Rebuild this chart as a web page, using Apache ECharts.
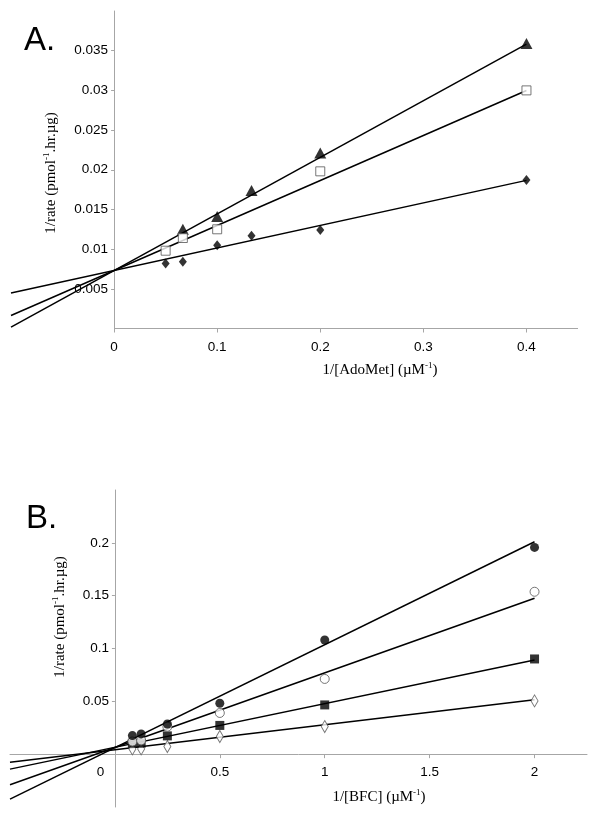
<!DOCTYPE html>
<html>
<head>
<meta charset="utf-8">
<script src="https://cdn.jsdelivr.net/npm/echarts@6/dist/echarts.min.js"></script>
<style>html,body{margin:0;padding:0;background:#fff}#c{width:600px;height:818px}</style>
</head>
<body>
<div id="c"></div>
<script>
// ---- Panel A data (1/[AdoMet]) ----
const aTriX = [0.0667, 0.1, 0.1333, 0.2, 0.4];
const aTriY = [0.0125, 0.0141, 0.0174, 0.0221, 0.0359];
const aSqX = [0.05, 0.0667, 0.1, 0.2, 0.4];
const aSqY = [0.0098, 0.0114, 0.0125, 0.0198, 0.0300];
const aDiaX = [0.05, 0.0667, 0.1, 0.1333, 0.2, 0.4];
const aDiaY = [0.0082, 0.0084, 0.0105, 0.0117, 0.0124, 0.0187];
// trendlines: [triangle, square, diamond]
const aSlope = [0.0713, 0.0567, 0.0284];
const aIntercept = [0.0073, 0.0073, 0.0073];
const aYTicks = [0.005, 0.01, 0.015, 0.02, 0.025, 0.03, 0.035];
const aXTicks = [0, 0.1, 0.2, 0.3, 0.4];

// ---- Panel B data (1/[BFC]) ----
const bX = [0.0833, 0.125, 0.25, 0.5, 1, 2];
const bFilledCircle = [0.0176, 0.0192, 0.0286, 0.0482, 0.108, 0.1957];
const bOpenCircle = [0.012, 0.013, 0.026, 0.0390, 0.0712, 0.1537];
const bSquare = [0.0104, 0.0104, 0.0173, 0.0272, 0.0466, 0.0901];
const bDiamond = [0.005, 0.005, 0.0072, 0.0167, 0.0261, 0.0504];
// trendlines: [filled circle, open circle, square, diamond]
const bSlope = [0.0974, 0.0706, 0.0413, 0.0236];
const bIntercept = [0.0062, 0.0063, 0.0065, 0.0042];
const bYTicks = [0.05, 0.1, 0.15, 0.2];
const bXTicks = [0, 0.5, 1, 1.5, 2];

const AXIS_GRAY = '#a6a6a6';
const tickFont = {fontFamily: 'Liberation Sans', fontSize: 13.5, color: '#000'};
const fmt = v => String(parseFloat(Number(v).toFixed(4)));

function zip(xs, ys) { return xs.map((x, i) => [x, ys[i]]); }
function fitLine(slope, icpt, x0, x1) { return [[x0, icpt + slope * x0], [x1, icpt + slope * x1]]; }

const aXMin = -0.1, aXMax = 0.45, aYMin = 0, aYMax = 0.04;
const bXMin = -0.5, bXMax = 2.25, bYMin = -0.05, bYMax = 0.25;

const gA = {left: 11, top: 11, width: 567, height: 317.5};
const gB = {left: 10, top: 490, width: 577, height: 317};
// shift axes so they cross at zero
const aYOffset = -gA.width * (0 - aXMin) / (aXMax - aXMin);
const bYOffset = -gB.width * (0 - bXMin) / (bXMax - bXMin);
const bXOffset = -gB.height * (0 - bYMin) / (bYMax - bYMin);

function lineSeries(xi, yi, data) {
  return {type: 'line', xAxisIndex: xi, yAxisIndex: yi, data: data, symbol: 'none',
          lineStyle: {color: '#000', width: 1.5}, silent: true, z: 2, clip: true, animation: false};
}
function scatter(xi, yi, data, symbol, size, filled) {
  return {type: 'scatter', xAxisIndex: xi, yAxisIndex: yi, data: data, symbol: symbol, symbolSize: size,
          itemStyle: filled ? {color: '#000'} : {color: '#fff', borderColor: '#555', borderWidth: 1},
          z: 3, animation: false};
}

const supRich = {
  sup: {fontFamily: 'Liberation Serif', fontSize: 9, verticalAlign: 'top', lineHeight: 18, fill: '#000'},
};

const option = {
  animation: false,
  grid: [
    Object.assign({outerBoundsMode: 'none', containLabel: false}, gA),
    Object.assign({outerBoundsMode: 'none', containLabel: false}, gB)
  ],
  xAxis: [
    {type: 'value', gridIndex: 0, min: aXMin, max: aXMax,
     axisLine: {show: false, onZero: false},
     axisTick: {show: true, length: 4, lineStyle: {color: AXIS_GRAY}, customValues: aXTicks},
     axisLabel: Object.assign({margin: 12, customValues: aXTicks, formatter: fmt}, tickFont),
     splitLine: {show: false}},
    {type: 'value', gridIndex: 1, min: bXMin, max: bXMax, offset: bXOffset,
     axisLine: {show: true, onZero: false, lineStyle: {color: AXIS_GRAY, width: 1}},
     axisTick: {show: true, length: 4, lineStyle: {color: AXIS_GRAY}, customValues: bXTicks.filter(v => v !== 0)},
     axisLabel: Object.assign({margin: 11, customValues: bXTicks,
       formatter: v => v === 0 ? '{z|0}' : fmt(v),
       rich: {z: {fontFamily: 'Liberation Sans', fontSize: 13.5, color: '#000', padding: [0, 29, 0, 0]}}}, tickFont),
     splitLine: {show: false}}
  ],
  yAxis: [
    {type: 'value', gridIndex: 0, min: aYMin, max: aYMax, offset: aYOffset,
     axisLine: {show: true, onZero: false, lineStyle: {color: AXIS_GRAY, width: 1}},
     axisTick: {show: true, length: 3, lineStyle: {color: AXIS_GRAY}, customValues: aYTicks},
     axisLabel: Object.assign({margin: 6, customValues: aYTicks, formatter: fmt}, tickFont),
     splitLine: {show: false}},
    {type: 'value', gridIndex: 1, min: bYMin, max: bYMax, offset: bYOffset,
     axisLine: {show: true, onZero: false, lineStyle: {color: AXIS_GRAY, width: 1}},
     axisTick: {show: true, length: 3, lineStyle: {color: AXIS_GRAY}, customValues: bYTicks},
     axisLabel: Object.assign({margin: 6, customValues: bYTicks, formatter: fmt}, tickFont),
     splitLine: {show: false}}
  ],
  series: [
    // Panel A x-axis line (starts at the y-axis)
    {type: 'line', xAxisIndex: 0, yAxisIndex: 0, data: [], silent: true,
     markLine: {silent: true, symbol: 'none', label: {show: false}, animation: false,
       lineStyle: {color: AXIS_GRAY, width: 1, type: 'solid'},
       data: [[{coord: [0, 0]}, {coord: [aXMax, 0]}]]}},
    lineSeries(0, 0, fitLine(aSlope[0], aIntercept[0], aXMin, aTriX[aTriX.length - 1])),
    lineSeries(0, 0, fitLine(aSlope[1], aIntercept[1], aXMin, aSqX[aSqX.length - 1])),
    lineSeries(0, 0, fitLine(aSlope[2], aIntercept[2], aXMin, aDiaX[aDiaX.length - 1])),
    scatter(0, 0, zip(aTriX, aTriY), 'triangle', [12, 11], true),
    scatter(0, 0, zip(aSqX, aSqY), 'rect', 9, false),
    scatter(0, 0, zip(aDiaX, aDiaY), 'diamond', [8, 10], true),

    lineSeries(1, 1, fitLine(bSlope[0], bIntercept[0], bXMin, bX[bX.length - 1])),
    lineSeries(1, 1, fitLine(bSlope[1], bIntercept[1], bXMin, bX[bX.length - 1])),
    lineSeries(1, 1, fitLine(bSlope[2], bIntercept[2], bXMin, bX[bX.length - 1])),
    lineSeries(1, 1, fitLine(bSlope[3], bIntercept[3], bXMin, bX[bX.length - 1])),
    scatter(1, 1, zip(bX, bDiamond), 'diamond', [7, 12], false),
    scatter(1, 1, zip(bX, bSquare), 'rect', 9, true),
    scatter(1, 1, zip(bX, bOpenCircle), 'circle', 9, false),
    scatter(1, 1, zip(bX, bFilledCircle), 'circle', 9, true)
  ],
  graphic: [
    {type: 'text', style: {text: 'A.', x: 24, y: 41, font: '33px "Liberation Sans"', fill: '#000', textAlign: 'left', textVerticalAlign: 'middle'}},
    {type: 'text', style: {text: 'B.', x: 26, y: 519, font: '33px "Liberation Sans"', fill: '#000', textAlign: 'left', textVerticalAlign: 'middle'}},
    {type: 'text', x: 51, y: 173, rotation: Math.PI / 2,
     style: {text: '1/rate (pmol{sup|-1}.hr.µg)', font: '15px "Liberation Serif"', fill: '#000', textAlign: 'center', textVerticalAlign: 'middle', rich: supRich}},
    {type: 'text', x: 60, y: 617, rotation: Math.PI / 2,
     style: {text: '1/rate (pmol{sup|-1}.hr.µg)', font: '15px "Liberation Serif"', fill: '#000', textAlign: 'center', textVerticalAlign: 'middle', rich: supRich}},
    {type: 'text', x: 380, y: 370,
     style: {text: '1/[AdoMet] (µM{sup|-1})', font: '15px "Liberation Serif"', fill: '#000', textAlign: 'center', textVerticalAlign: 'middle', rich: supRich}},
    {type: 'text', x: 379, y: 797,
     style: {text: '1/[BFC] (µM{sup|-1})', font: '15px "Liberation Serif"', fill: '#000', textAlign: 'center', textVerticalAlign: 'middle', rich: supRich}}
  ]
};

const chart = echarts.init(document.getElementById('c'), null, {renderer: 'canvas'});
chart.setOption(option);
</script>
</body>
</html>
